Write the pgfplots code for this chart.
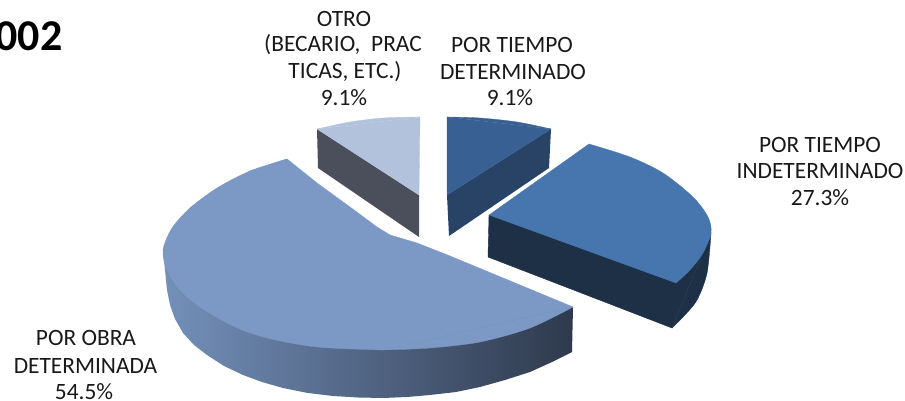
\documentclass[border=0pt]{standalone}
\usepackage{pgfplots}
\pgfplotsset{compat=1.18}
\usepackage{fontspec}
\setmainfont{Carlito}
\definecolor{topA}{HTML}{7C99C6}
\definecolor{topB}{HTML}{B3C2DC}
\definecolor{sideB}{HTML}{4A4F5B}
\definecolor{topC}{HTML}{386092}
\definecolor{sideC}{HTML}{284366}
\definecolor{topD}{HTML}{4776AE}
\definecolor{sideD}{HTML}{1E3045}
\definecolor{gL}{HTML}{7490BA}
\definecolor{gM}{HTML}{4B5B7A}
\definecolor{gR}{HTML}{2E394C}
\tikzset{lab/.style={font=\fontsize{23.4}{26}\selectfont, text=black!90}}
\begin{document}
\begin{tikzpicture}
\path[use as bounding box] (0,0) rectangle (905pt,401pt);
\begin{axis}[
  at={(0,0)}, anchor=south west,
  scale only axis, width=905pt, height=401pt,
  xmin=0, xmax=905, ymin=0, ymax=401, y dir=reverse,
  hide axis, clip=false,
  every node/.append style={inner sep=0pt, outer sep=0pt},
]
% large slice (54.5%)
\addplot[draw=none, left color=gL, middle color=gM, right color=gR] coordinates {
 (163,250)(165,270)(167,290)(170,305)(175,319)(183,333)(194,345)(207,355)(224,366)(243,375)
 (262,382)(283,388)(308,393)(333,396)(358,397.5)(383,398)(407,397)(430,395)(456,392)(480,387)
 (505,380)(530,372)(552,362)(572,352)(573,307)(383,300)(163,250)};
\addplot[draw=topA, line width=0.4pt, fill=topA] coordinates {
 (287,159)(317,183)(350,207)(377,227)(390,235)(417,243)(450,256)(573,307)
 (383,350)(200,307)(163,250)(190,208)(250,171)(287,159)};
\addplot[draw=topA, line width=0.3pt, fill=topA, smooth] coordinates {
 (287,159)(250,171)(217,188)(190,208)(172,228)(163,250)(167,270)(180,290)(200,307)(233,326)
 (267,338)(317,347)(383,350)};
\addplot[draw=topA, line width=0.3pt, fill=topA, smooth] coordinates {
 (383,350)(430,348)(480,342)(530,328)(573,307)};
% otro
\addplot[draw=none, fill=sideB] coordinates {(317,129)(318,168)(419,237)(419,195)(317,129)};
\addplot[draw=topB, line width=0.3pt, fill=topB] coordinates {(419,195)(317,129)(420,117)(419,195)};
\addplot[draw=topB, line width=0.3pt, fill=topB, smooth] coordinates {(317,129)(350,122)(383,118)(420,117)};
% por tiempo determinado
\addplot[draw=none, fill=sideC] coordinates {(551,129)(549,168)(449,236)(447,195)(551,129)};
\addplot[draw=topC, line width=0.3pt, fill=topC] coordinates {(447,117)(551,129)(447,195)(447,117)};
\addplot[draw=topC, line width=0.3pt, fill=topC, smooth] coordinates {(447,117)(480,118)(517,122)(551,129)};
% por tiempo indeterminado
\addplot[draw=sideD, line width=0.4pt, fill=sideD, smooth] coordinates {(711,233)(707,273)(697,300)(683,317)(672,328)};
\addplot[draw=sideD, line width=0.4pt, fill=sideD] coordinates {(489,215)(488,257)(672,328)(711,233)(489,215)};
\addplot[draw=topD, line width=0.3pt, fill=topD] coordinates {(589,144)(489,215)(676,283)(711,233)(589,144)};
\addplot[draw=topD, line width=0.3pt, fill=topD, smooth] coordinates {(589,144)(630,157)(663,173)(693,197)(708,217)(711,233)(703,253)(690,270)(676,283)};
% labels
\node[lab] at (axis cs:344,19) {OTRO};
\node[lab] at (axis cs:343,45) {(BECARIO,\ \ PRAC};
\node[lab] at (axis cs:345,72) {TICAS, ETC.)};
\node[lab] at (axis cs:344,98) {9.1\%};
\node[lab] at (axis cs:512,45) {POR TIEMPO};
\node[lab] at (axis cs:513,72) {DETERMINADO};
\node[lab] at (axis cs:510,98) {9.1\%};
\node[lab] at (axis cs:820,145) {POR TIEMPO};
\node[lab] at (axis cs:820,171) {INDETERMINADO};
\node[lab] at (axis cs:820,198) {27.3\%};
\node[lab] at (axis cs:86,338) {POR OBRA};
\node[lab] at (axis cs:85.5,366) {DETERMINADA};
\node[lab] at (axis cs:84,392) {54.5\%};
\node[font=\fontsize{44}{48}\selectfont\bfseries, anchor=east] at (axis cs:66,36) {002};
\end{axis}
\end{tikzpicture}
\end{document}
